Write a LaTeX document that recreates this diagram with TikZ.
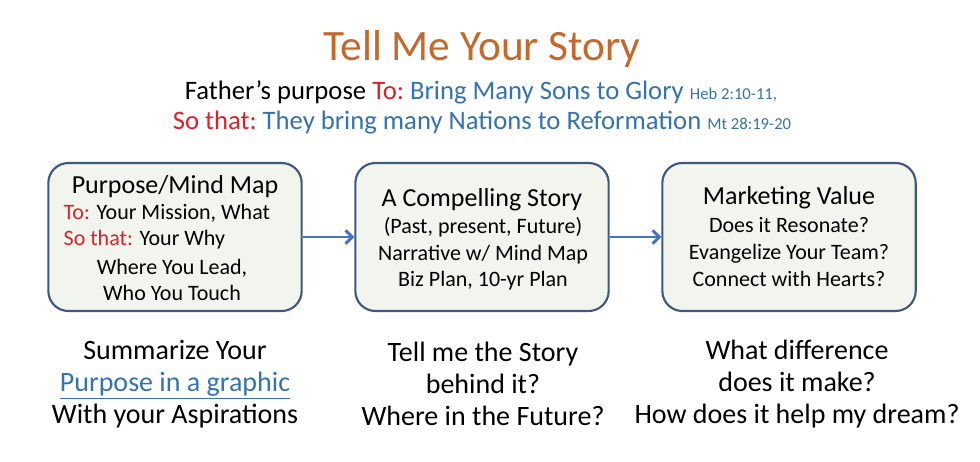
\documentclass[tikz,border=0pt]{standalone}
\usepackage{fontspec}
\setmainfont{Carlito}
\usepackage{tikz}
\usepackage{xcolor}
\usetikzlibrary{arrows.meta,positioning}

\definecolor{titleorange}{RGB}{196,104,44}
\definecolor{textblue}{RGB}{52,114,176}
\definecolor{sored}{RGB}{222,32,40}
\definecolor{boxline}{RGB}{62,88,126}
\definecolor{boxfill}{RGB}{242,245,238}
\definecolor{flowblue}{RGB}{68,114,196}

\tikzset{
  stagebox/.style={draw=boxline,line width=1.6pt,fill=boxfill,rounded corners=15pt,
    minimum width=190pt,minimum height=111pt},
  boxhead/.style={font=\fontsize{19.5}{22}\selectfont},
  boxtext/.style={font=\fontsize{16.5}{20}\selectfont,align=center},
  asktext/.style={font=\fontsize{21}{24}\selectfont,align=center},
  flow/.style={draw=flowblue,line width=2.2pt,-{Straight Barb[length=5pt,width=10pt]}}
}

\begin{document}
\begin{tikzpicture}[x=0.75pt,y=-0.75pt]
\useasboundingbox (0,0) rectangle (980,461);
% heading
\node (title) at (482,49) {\fontsize{32.5}{38}\selectfont\color{titleorange}Tell Me Your Story};
\node (why) at (481,92) {\fontsize{20}{24}\selectfont Father’s purpose {\color{sored}To:}\ {\color{textblue}Bring Many Sons to Glory} {\color{textblue}\fontsize{12.5}{14}\selectfont Heb 2:10-11,}};
\node (sothat) at (482,123) {\fontsize{20}{24}\selectfont{\color{sored}So that:}\ {\color{textblue}They bring many Nations to Reformation} {\color{textblue}\fontsize{12.5}{14}\selectfont Mt 28:19-20}};
% the three stages
\node[stagebox] (purpose) at (175,237) {};
\node[stagebox] (story) at (482,237) {};
\node[stagebox] (value) at (789,237) {};
\draw[flow] (purpose) -- (story);
\draw[flow] (story) -- (value);
% box texts
\node[boxhead] (purposehead) at (175,187) {Purpose/Mind Map};
\node[boxtext,anchor=west] (purposeto) at (59,213) {{\color{sored}To:} Your Mission, What};
\node[boxtext,anchor=west] (purposeso) at (59,240) {{\color{sored}So that:} Your Why};
\node[boxtext] (purposerest) at (172,280) {Where You Lead,\\Who You Touch};
\node[boxhead] (storyhead) at (482,200) {A Compelling Story};
\node[boxtext] (storytext) at (483,254) {(Past, present, Future)\\Narrative w/ Mind Map\\Biz Plan, 10-yr Plan};
\node[boxhead] (valuehead) at (789,198) {Marketing Value};
\node[boxtext] (valuetext) at (789,252) {Does it Resonate?\\Evangelize Your Team?\\Connect with Hearts?};
% questions below
\node[asktext] (askpurpose) at (175,384) {Summarize Your\\{\color{textblue}\underline{Purpose in a graphic}}\\With your Aspirations};
\node[asktext] (askstory) at (483,384) {Tell me the Story\\behind it?\\Where in the Future?};
\node[asktext] (askvalue) at (797,384) {What difference\\does it make?\\How does it help my dream?};
\end{tikzpicture}
\end{document}
